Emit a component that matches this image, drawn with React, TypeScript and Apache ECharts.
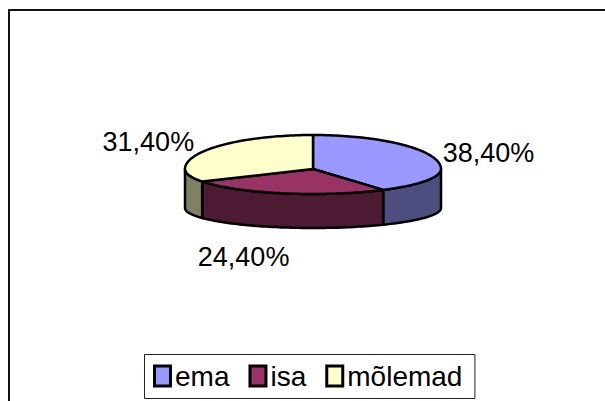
import React, { useEffect, useRef } from "react";
import * as echarts from "echarts";

const categories = ["ema", "isa", "mõlemad"];
const values = [38.4, 24.4, 31.4];
const topColors = ["#9999FF", "#993366", "#FFFFCC"];
const sideColors = ["#4D4D80", "#4D1A33", "#808066"];

const total = values.reduce((s, v) => s + v, 0);

const CX = 313;
const CY = 169;
const RA = 128;
const RB_FAR = 34;
const RB_NEAR = 25;
const BOT_CY = 208;
const BOT_RB_NEAR = 20;
const FONT = "'Liberation Sans', Arial, sans-serif";
const LEGEND_FONT = `28px ${FONT}`;

function topPt(t: number): number[] {
  const c = Math.cos(t);
  return [CX + RA * Math.sin(t), CY - (c >= 0 ? RB_FAR : RB_NEAR) * c];
}

function botPt(t: number): number[] {
  const c = Math.cos(t);
  return [CX + RA * Math.sin(t), BOT_CY - BOT_RB_NEAR * c];
}

function arc(t0: number, t1: number, f: (t: number) => number[]): number[][] {
  const n = Math.max(2, Math.ceil((t1 - t0) / (Math.PI / 120)));
  const out: number[][] = [];
  for (let k = 0; k <= n; k++) out.push(f(t0 + ((t1 - t0) * k) / n));
  return out;
}

function fmt(v: number): string {
  return v.toFixed(2).replace(".", ",") + "%";
}

function measure(text: string, font: string): number {
  const ctx = document.createElement("canvas").getContext("2d");
  if (!ctx) return text.length * 14;
  ctx.font = font;
  return ctx.measureText(text).width;
}

function buildLegend(): any[] {
  const boxX = 144;
  const boxY = 354;
  const boxH = 44;
  const iconW = 19;
  const iconH = 23;
  const iconY = boxY + (boxH - iconH) / 2;
  const items: any[] = [];
  let x = boxX + 9;
  categories.forEach((name, i) => {
    items.push({
      type: "rect",
      shape: { x: x + 1.5, y: iconY + 1.5, width: iconW - 3, height: iconH - 3 },
      style: { fill: topColors[i], stroke: "#000", lineWidth: 3 },
      z: 10,
    });
    const tx = x + iconW + 3;
    items.push({
      type: "text",
      x: tx,
      y: boxY + boxH / 2,
      style: { text: name, font: LEGEND_FONT, fill: "#000", align: "left", verticalAlign: "middle" },
      z: 10,
    });
    x = tx + measure(name, LEGEND_FONT) + 19;
  });
  const boxW = x - 19 + 12 - boxX;
  items.unshift({
    type: "rect",
    shape: { x: boxX + 0.5, y: boxY + 0.5, width: boxW, height: boxH },
    style: { fill: "#fff", stroke: "#222", lineWidth: 1 },
    z: 9,
  });
  return items;
}

export default function App() {
  const ref = useRef<HTMLDivElement>(null);
  useEffect(() => {
    if (!ref.current) return;
    const chart = echarts.init(ref.current, null, { renderer: "svg" });
    const series = categories.map((name, i) => ({
      type: "custom",
      name,
      coordinateSystem: "none",
      data: [values[i]],
      itemStyle: { color: topColors[i], borderColor: "#000", borderWidth: 3 },
      renderItem: (params: any, api: any) => {
        const idx = params.seriesIndex;
        const v = api.value(0);
        const before = values.slice(0, idx).reduce((s, x) => s + x, 0);
        const start = (before / total) * Math.PI * 2;
        const end = start + (v / total) * Math.PI * 2;
        const children: any[] = [];
        const s0 = Math.max(start, Math.PI / 2);
        const s1 = Math.min(end, (Math.PI * 3) / 2);
        if (s1 > s0) {
          const topArc = arc(s0, s1, topPt);
          const botArc = arc(s0, s1, botPt).reverse();
          children.push({
            type: "polygon",
            z2: 1,
            shape: { points: topArc.concat(botArc) },
            style: { fill: sideColors[idx], stroke: "#000", lineWidth: 2.5, lineJoin: "round" },
          });
        }
        children.push({
          type: "polygon",
          z2: 2,
          shape: { points: [[CX, CY]].concat(arc(start, end, topPt)) },
          style: { fill: topColors[idx], stroke: "#000", lineWidth: 2.5, lineJoin: "round" },
        });
        const mid = (start + end) / 2;
        const sn = Math.sin(mid);
        const cs = Math.cos(mid);
        let lx: number;
        let align: string;
        let ly: number;
        if (cs >= 0) {
          align = sn >= 0 ? "left" : "right";
          lx = CX + RA * sn + (sn >= 0 ? 7 : -8);
          ly = CY - 55 * cs;
        } else {
          align = "center";
          lx = CX + 300 * sn;
          ly = CY - 90 * cs;
        }
        children.push({
          type: "text",
          z2: 3,
          x: lx,
          y: ly,
          style: {
            text: fmt(v),
            fill: "#000",
            font: `27px ${FONT}`,
            align,
            verticalAlign: "middle",
          },
        });
        return { type: "group", children };
      },
    }));
    chart.setOption({
      animation: false,
      backgroundColor: "#fff",
      graphic: [
        {
          type: "rect",
          shape: { x: 9, y: 10, width: 700, height: 500 },
          style: { fill: "none", stroke: "#111", lineWidth: 2 },
          silent: true,
        },
        ...buildLegend(),
      ],
      series,
    });
    return () => chart.dispose();
  }, []);
  return (
    <div
      ref={ref}
      style={{ position: "fixed", left: 0, top: 0, width: 605, height: 401, background: "#fff" }}
    />
  );
}
